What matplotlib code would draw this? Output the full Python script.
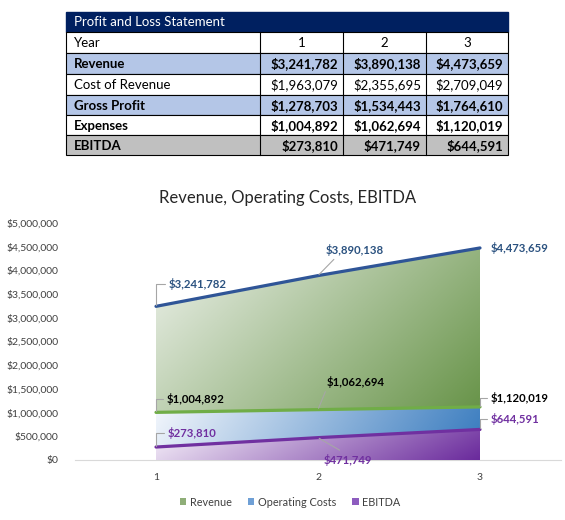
import numpy as np
import matplotlib
matplotlib.use("Agg")
import matplotlib.pyplot as plt
from matplotlib.patches import Rectangle, Polygon, Patch
from matplotlib.colors import LinearSegmentedColormap
from matplotlib.ticker import FuncFormatter, MultipleLocator

plt.rcParams['font.family'] = ['Lato', 'DejaVu Sans']

# data
years = [1, 2, 3]
revenue = [3241782, 3890138, 4473659]
cost_of_revenue = [1963079, 2355695, 2709049]
gross_profit = [1278703, 1534443, 1764610]
expenses = [1004892, 1062694, 1120019]
ebitda = [273810, 471749, 644591]

table_rows = ["Year", "Revenue", "Cost of Revenue", "Gross Profit", "Expenses", "EBITDA"]
table_vals = [years, revenue, cost_of_revenue, gross_profit, expenses, ebitda]
row_bold = [False, True, False, True, True, True]
row_fill = ["white", "#b4c6e7", "white", "#b4c6e7", "white", "#c0c0c0"]

series_names = ["Revenue", "Operating Costs", "EBITDA"]

def money(v):
    return "${:,.0f}".format(v)

fig = plt.figure(figsize=(5.65, 5.2), dpi=100)

# ---- table (drawn in pixel coords) ----
tab = fig.add_axes([0, 0, 1, 1])
tab.set_xlim(0, 565)
tab.set_ylim(520, 0)
tab.axis('off')

left, right = 66, 508
cols = [left, 260, 343, 426, right]
row_y = [32, 53, 74, 95, 115, 135, 155]

tab.add_patch(Rectangle((left, 12), right - left, 20, facecolor="#002060", edgecolor="#002060"))
tab.text(74, 22.5, "Profit and Loss Statement", color="white", fontsize=9.5, va="center", ha="left")

for i, name in enumerate(table_rows):
    y0, y1 = row_y[i], row_y[i + 1]
    tab.add_patch(Rectangle((left, y0), right - left, y1 - y0, facecolor=row_fill[i],
                            edgecolor="black", lw=0.8))
    for c in cols[1:-1]:
        tab.plot([c, c], [y0, y1], color="black", lw=0.8)
    w = "bold" if row_bold[i] else "normal"
    yc = (y0 + y1) / 2 + 0.5
    tab.text(74, yc, name, fontsize=9.5, fontweight=w, va="center", ha="left")
    for j, v in enumerate(table_vals[i]):
        if i == 0:
            tab.text((cols[j + 1] + cols[j + 2]) / 2, yc, str(v), fontsize=9.5,
                     va="center", ha="center")
        else:
            tab.text(cols[j + 2] - 5, yc, money(v), fontsize=9.5, fontweight=w,
                     va="center", ha="right")

# ---- chart ----
ax = fig.add_axes([75 / 565, 60 / 520, 486 / 565, 237 / 520])
ax.set_xlim(0.5, 3.5)
ax.set_ylim(0, 5000000)


def grad_fill(x, y, c0, c1, wx, z):
    verts = [(x[0], 0)] + list(zip(x, y)) + [(x[-1], 0)]
    poly = Polygon(verts, closed=True, facecolor="none", edgecolor="none", transform=ax.transData)
    ax.add_patch(poly)
    gx, gy = np.meshgrid(np.linspace(0, 1, 300), np.linspace(0, 1, 300))
    t = wx * gx + (1 - wx) * (1 - gy)
    cmap = LinearSegmentedColormap.from_list("g", [c0, c1])
    im = ax.imshow(t, extent=[x[0], x[-1], 0, max(y)], origin="lower", cmap=cmap,
                   aspect="auto", vmin=0, vmax=1, zorder=z, interpolation="bilinear")
    im.set_clip_path(poly)


grad_fill(years, revenue, "#eef2ec", "#5a8a38", 0.6, 1)
grad_fill(years, expenses, "#f2f6fc", "#3478bd", 0.9, 2)
grad_fill(years, ebitda, "#f7f2fa", "#6a2a9c", 0.85, 3)

ax.plot(years, revenue, color="#2f5597", lw=2.3, zorder=5, solid_capstyle="round")
ax.plot(years, expenses, color="#70ad47", lw=2.3, zorder=5, solid_capstyle="round")
ax.plot(years, ebitda, color="#7030a0", lw=2.3, zorder=5, solid_capstyle="round")

ax.set_xlim(0.5, 3.5)
ax.set_ylim(0, 5000000)

for s in ["top", "right", "left"]:
    ax.spines[s].set_visible(False)
ax.spines["bottom"].set_color("#d9d9d9")
ax.tick_params(length=0, labelsize=7.5, colors="#404040")
ax.tick_params(axis="y", pad=12)
ax.tick_params(axis="x", pad=9)
ax.set_xticks(years)
ax.yaxis.set_major_locator(MultipleLocator(500000))
ax.yaxis.set_major_formatter(FuncFormatter(lambda v, p: money(v)))

fig.text(288 / 565, 1 - 198 / 520, "Revenue, Operating Costs, EBITDA", fontsize=12,
         color="#262626", ha="center", va="center")

# data labels
lead = dict(arrowstyle="-", color="#a6a6a6", lw=0.8, shrinkA=1, shrinkB=1)
elbow = dict(lead, connectionstyle="angle,angleA=0,angleB=90,rad=0", relpos=(0, 0.5))


def label(x, y, col, dx, dy, arrow, ha="center", va="center"):
    ax.annotate(money(y), xy=(x, y), xytext=(dx, dy), textcoords="offset pixels",
                fontsize=8.2, fontweight="bold", color=col, ha=ha, va=va,
                arrowprops=arrow, zorder=6, annotation_clip=False)


rev_col = "#2b5280"
exp_col = "#000000"
eb_col = "#7030a0"

label(years[0], revenue[0], rev_col, 13, 22, elbow, ha="left")
label(years[1], revenue[1], rev_col, 37, 26, dict(lead, relpos=(0.2, 0)))
label(years[2], revenue[2], rev_col, 11, 0, None, ha="left")

label(years[0], expenses[0], exp_col, 11, 13, elbow, ha="left")
label(years[1], expenses[1], exp_col, 38, 28, dict(lead, relpos=(0.0, 0)))
label(years[2], expenses[2], exp_col, 11, 9, elbow, ha="left")

label(years[0], ebitda[0], eb_col, 12, 14, elbow, ha="left")
label(years[1], ebitda[1], eb_col, 30, -22, dict(lead, relpos=(0.45, 1)))
label(years[2], ebitda[2], eb_col, 11, 10, elbow, ha="left")

handles = [Patch(facecolor="#8fae78", edgecolor="none"),
           Patch(facecolor="#6fa0d6", edgecolor="none"),
           Patch(facecolor="#8d5cbf", edgecolor="none")]
fig.legend(handles, series_names, loc="center", bbox_to_anchor=(290 / 565, 1 - 502 / 520),
           ncol=3, frameon=False, fontsize=7.8, handlelength=0.6, handleheight=0.6,
           handletextpad=0.3, columnspacing=1.5, labelcolor="#404040")

fig.savefig("out.png", dpi=100)
